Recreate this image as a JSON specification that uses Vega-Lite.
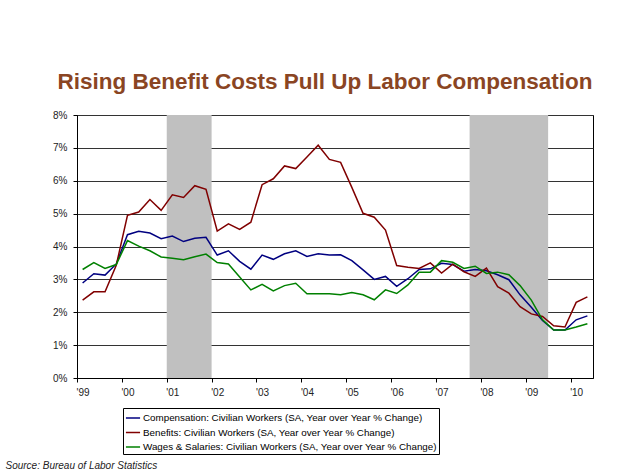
{
  "$schema": "https://vega.github.io/schema/vega-lite/v6.json",
  "width": 516,
  "height": 263,
  "autosize": {"type": "none"},
  "padding": {"left": 77, "top": 115, "right": 33, "bottom": 93},
  "background": "white",
  "config": {
    "font": "Liberation Sans",
    "view": {"stroke": "#000000", "strokeWidth": 1},
    "axis": {"labelFont": "Liberation Sans", "titleFont": "Liberation Sans"}
  },
  "title": {
    "text": "Rising Benefit Costs Pull Up Labor Compensation",
    "font": "Liberation Sans",
    "fontSize": 22.5,
    "fontWeight": "bold",
    "color": "#8a4523",
    "anchor": "middle",
    "offset": 17,
    "dx": -10
  },
  "layer": [
    {
      "data": {"values": [
        {"start": 2000.875, "end": 2001.875},
        {"start": 2007.625, "end": 2009.375}
      ]},
      "mark": {"type": "rect", "color": "#c0c0c0"},
      "encoding": {
        "x": {"field": "start", "type": "quantitative", "scale": {"domain": [1998.875, 2010.375], "nice": false, "zero": false}},
        "x2": {"field": "end"}
      }
    },
    {
      "data": {"values": [
        {"t": 1999.00, "comp": 2.89, "ben": 2.37, "wage": 3.30},
        {"t": 1999.25, "comp": 3.17, "ben": 2.62, "wage": 3.51},
        {"t": 1999.50, "comp": 3.13, "ben": 2.62, "wage": 3.33},
        {"t": 1999.75, "comp": 3.47, "ben": 3.43, "wage": 3.45},
        {"t": 2000.00, "comp": 4.36, "ben": 4.95, "wage": 4.18},
        {"t": 2000.25, "comp": 4.46, "ben": 5.05, "wage": 4.01},
        {"t": 2000.50, "comp": 4.41, "ben": 5.43, "wage": 3.87},
        {"t": 2000.75, "comp": 4.24, "ben": 5.10, "wage": 3.68},
        {"t": 2001.00, "comp": 4.32, "ben": 5.57, "wage": 3.64},
        {"t": 2001.25, "comp": 4.15, "ben": 5.49, "wage": 3.60},
        {"t": 2001.50, "comp": 4.25, "ben": 5.85, "wage": 3.69},
        {"t": 2001.75, "comp": 4.28, "ben": 5.74, "wage": 3.77},
        {"t": 2002.00, "comp": 3.74, "ben": 4.47, "wage": 3.51},
        {"t": 2002.25, "comp": 3.87, "ben": 4.69, "wage": 3.47},
        {"t": 2002.50, "comp": 3.55, "ben": 4.52, "wage": 3.07},
        {"t": 2002.75, "comp": 3.31, "ben": 4.74, "wage": 2.68},
        {"t": 2003.00, "comp": 3.74, "ben": 5.88, "wage": 2.85},
        {"t": 2003.25, "comp": 3.61, "ben": 6.06, "wage": 2.65},
        {"t": 2003.50, "comp": 3.78, "ben": 6.45, "wage": 2.81},
        {"t": 2003.75, "comp": 3.87, "ben": 6.37, "wage": 2.88},
        {"t": 2004.00, "comp": 3.70, "ben": 6.72, "wage": 2.56},
        {"t": 2004.25, "comp": 3.78, "ben": 7.08, "wage": 2.56},
        {"t": 2004.50, "comp": 3.74, "ben": 6.65, "wage": 2.56},
        {"t": 2004.75, "comp": 3.75, "ben": 6.56, "wage": 2.53},
        {"t": 2005.00, "comp": 3.57, "ben": 5.80, "wage": 2.60},
        {"t": 2005.25, "comp": 3.29, "ben": 5.01, "wage": 2.53},
        {"t": 2005.50, "comp": 3.00, "ben": 4.89, "wage": 2.38},
        {"t": 2005.75, "comp": 3.09, "ben": 4.50, "wage": 2.68},
        {"t": 2006.00, "comp": 2.79, "ben": 3.42, "wage": 2.57},
        {"t": 2006.25, "comp": 3.02, "ben": 3.37, "wage": 2.83},
        {"t": 2006.50, "comp": 3.30, "ben": 3.33, "wage": 3.22},
        {"t": 2006.75, "comp": 3.32, "ben": 3.50, "wage": 3.22},
        {"t": 2007.00, "comp": 3.49, "ben": 3.19, "wage": 3.57},
        {"t": 2007.25, "comp": 3.45, "ben": 3.46, "wage": 3.52},
        {"t": 2007.50, "comp": 3.25, "ben": 3.23, "wage": 3.33},
        {"t": 2007.75, "comp": 3.30, "ben": 3.09, "wage": 3.40},
        {"t": 2008.00, "comp": 3.26, "ben": 3.34, "wage": 3.18},
        {"t": 2008.25, "comp": 3.14, "ben": 2.78, "wage": 3.22},
        {"t": 2008.50, "comp": 2.99, "ben": 2.58, "wage": 3.14},
        {"t": 2008.75, "comp": 2.53, "ben": 2.17, "wage": 2.81},
        {"t": 2009.00, "comp": 2.15, "ben": 1.95, "wage": 2.37},
        {"t": 2009.25, "comp": 1.75, "ben": 1.87, "wage": 1.77},
        {"t": 2009.50, "comp": 1.46, "ben": 1.59, "wage": 1.46},
        {"t": 2009.75, "comp": 1.46, "ben": 1.55, "wage": 1.46},
        {"t": 2010.00, "comp": 1.77, "ben": 2.30, "wage": 1.55},
        {"t": 2010.25, "comp": 1.89, "ben": 2.47, "wage": 1.65}
      ]},
      "transform": [{"fold": ["comp", "ben", "wage"], "as": ["series", "value"]}],
      "mark": {"type": "line", "strokeWidth": 1.5},
      "encoding": {
        "x": {
          "field": "t", "type": "quantitative",
          "scale": {"domain": [1998.875, 2010.375], "nice": false, "zero": false},
          "axis": {
            "title": "Source: Bureau of Labor Statistics",
            "titleFont": "Liberation Sans",
            "titleFontSize": 10,
            "titleFontStyle": "italic",
            "titleFontWeight": "normal",
            "titleColor": "#222222",
            "titleAnchor": "start",
            "titleAlign": "left",
            "titleBaseline": "alphabetic",
            "titleX": -72,
            "titleY": 90,
            "values": [1998.875, 1999.375, 1999.875, 2000.375, 2000.875, 2001.375, 2001.875, 2002.375, 2002.875, 2003.375, 2003.875, 2004.375, 2004.875, 2005.375, 2005.875, 2006.375, 2006.875, 2007.375, 2007.875, 2008.375, 2008.875, 2009.375, 2009.875, 2010.375],
            "labelExpr": "(datum.value % 1) > 0.8 ? \"'\" + slice(toString(round(datum.value)), 2) : ''",
            "labelOffset": 5.6,
            "labelOverlap": false,
            "labelBound": false,
            "labelFlush": false,
            "labelFontSize": 10,
            "labelColor": "#222222",
            "labelPadding": 5,
            "tickColor": "#000000",
            "tickSize": 4,
            "domainColor": "#000000",
            "grid": false
          }
        },
        "y": {
          "field": "value", "type": "quantitative",
          "scale": {"domain": [0, 8], "nice": false},
          "axis": {
            "title": null,
            "values": [0, 1, 2, 3, 4, 5, 6, 7, 8],
            "labelExpr": "datum.value + '%'",
            "labelFontSize": 10,
            "labelColor": "#222222",
            "labelPadding": 6,
            "tickColor": "#000000",
            "tickSize": 4,
            "domainColor": "#000000",
            "grid": true,
            "gridColor": "#333333",
            "gridOpacity": 1,
            "gridWidth": 1
          }
        },
        "color": {
          "field": "series", "type": "nominal",
          "scale": {"domain": ["comp", "ben", "wage"], "range": ["#000080", "#800000", "#008000"]},
          "legend": {
            "title": null,
            "orient": "none",
            "legendX": 46,
            "legendY": 293,
            "direction": "vertical",
            "labelExpr": "datum.value == 'comp' ? 'Compensation: Civilian Workers (SA, Year over Year % Change)' : datum.value == 'ben' ? 'Benefits: Civilian Workers (SA, Year over Year % Change)' : 'Wages & Salaries: Civilian Workers (SA, Year over Year % Change)'",
            "labelFont": "Liberation Sans",
            "labelFontSize": 9.8,
            "labelColor": "#000000",
            "labelLimit": 400,
            "labelOffset": 2,
            "symbolType": "stroke",
            "symbolSize": 200,
            "symbolStrokeWidth": 1.5,
            "rowPadding": 1.5,
            "padding": 2,
            "strokeColor": "#000000",
            "fillColor": "#ffffff"
          }
        }
      }
    }
  ]
}
